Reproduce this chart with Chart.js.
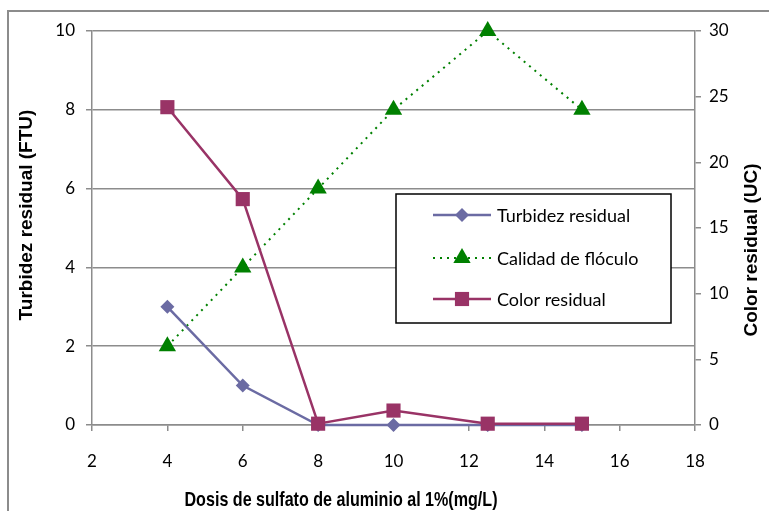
<!DOCTYPE html>
<html>
<head>
<meta charset="utf-8">
<script src="https://cdn.jsdelivr.net/npm/chart.js@4.4.1/dist/chart.umd.min.js"></script>
<style>
  body { margin: 0; background: #fff; }
  canvas { display: block; }
</style>
</head>
<body>
<canvas id="doseChart" width="769" height="511"></canvas>
<script>
// dosis de sulfato (mg/L) y resultados del ensayo de jarras
const dosis = [4, 6, 8, 10, 12.5, 15];
const turbidez = [3, 1, 0, 0, 0, 0];          // FTU, eje izquierdo
const calidad = [2, 4, 6, 8, 10, 8];          // eje izquierdo
const colorResidual = [24.2, 17.2, 0.1, 1.1, 0.1, 0.1];   // UC, eje derecho

const xRange = [2, 18, 2];
const leftRange = [0, 10, 2];
const rightRange = [0, 30, 5];

const xTitle = "Dosis de sulfato de aluminio al 1%(mg/L)";
const leftTitle = "Turbidez residual (FTU)";
const rightTitle = "Color residual (UC)";

const GRID = "#8c8c8c";
const tickFont = { family: "Lato, 'Open Sans', sans-serif", size: 17 };

function pts(ys){
    return dosis.map((x, i) => ({ x: x, y: ys[i] }));
}

// marco exterior, titulos de ejes y leyenda
const decor = {
    id: "decor",
    beforeDraw(chart){
        const ctx = chart.ctx;
        ctx.save();
        ctx.fillStyle = "#fff";
        ctx.fillRect(0, 0, chart.width, chart.height);
        ctx.strokeStyle = GRID;
        ctx.lineWidth = 2;
        ctx.strokeRect(8, 11, chart.width + 20, chart.height + 20);
        ctx.restore();
    },
    afterDraw(chart){
        const ctx = chart.ctx;
        ctx.save();
        ctx.fillStyle = "#000";
        ctx.textAlign = "center";
        ctx.textBaseline = "middle";
        ctx.font = "bold 19px 'Liberation Sans', Arial, sans-serif";

        ctx.save();
        ctx.translate(27, 215);
        ctx.rotate(-Math.PI / 2);
        ctx.fillText(leftTitle, 0, 0);
        ctx.restore();

        ctx.save();
        ctx.translate(752, 250);
        ctx.rotate(-Math.PI / 2);
        ctx.fillText(rightTitle, 0, 0);
        ctx.restore();

        // titulo horizontal en letra estrecha
        ctx.save();
        ctx.font = "bold 21px 'Liberation Sans', Arial, sans-serif";
        ctx.translate(341, 500);
        const w = ctx.measureText(xTitle).width;
        ctx.scale(313 / w, 1);
        ctx.fillText(xTitle, 0, 0);
        ctx.restore();

        // leyenda
        const box = { x: 396, y: 194, w: 275, h: 129 };
        ctx.fillStyle = "#fff";
        ctx.fillRect(box.x, box.y, box.w, box.h);
        ctx.strokeStyle = "#000";
        ctx.lineWidth = 1.5;
        ctx.strokeRect(box.x, box.y, box.w, box.h);

        const rows = [215, 258, 299];
        chart.data.datasets.forEach((ds, i) => {
            const y = rows[i];
            ctx.save();
            ctx.strokeStyle = ds.borderColor;
            ctx.lineWidth = ds.borderWidth;
            ctx.setLineDash(ds.borderDash || []);
            ctx.beginPath();
            ctx.moveTo(433, y);
            ctx.lineTo(491, y);
            ctx.stroke();
            ctx.setLineDash([]);
            ctx.fillStyle = ds.pointBackgroundColor;
            ctx.strokeStyle = ds.pointBorderColor;
            Chart.helpers.drawPoint(ctx, {
                pointStyle: ds.pointStyle,
                radius: ds.pointRadius,
                rotation: 0,
                borderWidth: 0
            }, 462, y);
            ctx.restore();

            ctx.fillStyle = "#000";
            ctx.textAlign = "left";
            ctx.font = "18px " + tickFont.family;
            ctx.fillText(ds.label, 497, y + 1);
        });
        ctx.restore();
    }
};

new Chart(document.getElementById("doseChart"), {
    type: "line",
    data: {
        datasets: [
            {
                label: "Turbidez residual",
                data: pts(turbidez),
                yAxisID: "y",
                borderColor: "#6b6ba3",
                borderWidth: 2.5,
                pointStyle: "rectRot",
                pointRadius: 7,
                pointBackgroundColor: "#6b6ba3",
                pointBorderColor: "#6b6ba3",
                pointBorderWidth: 0,
                order: 1
            },
            {
                label: "Calidad de flóculo",
                data: pts(calidad),
                yAxisID: "y",
                borderColor: "#008000",
                borderWidth: 2,
                borderDash: [2, 5],
                pointStyle: "triangle",
                pointRadius: 10,
                pointBackgroundColor: "#008000",
                pointBorderColor: "#008000",
                pointBorderWidth: 0,
                order: 2
            },
            {
                label: "Color residual",
                data: pts(colorResidual),
                yAxisID: "y2",
                borderColor: "#993366",
                borderWidth: 2.5,
                pointStyle: "rect",
                pointRadius: 10,
                pointBackgroundColor: "#993366",
                pointBorderColor: "#993366",
                pointBorderWidth: 0,
                order: 0
            }
        ]
    },
    options: {
        responsive: false,
        animation: false,
        clip: false,
        layout: { padding: { top: 31, left: 0, right: 0, bottom: 0 } },
        plugins: {
            legend: { display: false },
            tooltip: { enabled: false }
        },
        elements: { line: { tension: 0 } },
        scales: {
            x: {
                type: "linear",
                min: xRange[0], max: xRange[1],
                ticks: { stepSize: xRange[2], color: "#000", font: tickFont, padding: 20, maxRotation: 0 },
                grid: { drawOnChartArea: false, color: GRID, tickLength: 6, lineWidth: 1.5 },
                border: { color: GRID, width: 1.5 },
                afterFit(s){ s.height = 86; }
            },
            y: {
                position: "left",
                min: leftRange[0], max: leftRange[1],
                ticks: { stepSize: leftRange[2], color: "#000", font: tickFont, padding: 11 },
                grid: { color: GRID, tickLength: 6, lineWidth: 1.5 },
                border: { color: GRID, width: 1.5 },
                afterFit(s){ s.width = 92; }
            },
            y2: {
                position: "right",
                min: rightRange[0], max: rightRange[1],
                ticks: { stepSize: rightRange[2], color: "#000", font: tickFont, padding: 8 },
                grid: { drawOnChartArea: false, color: GRID, tickLength: 6, lineWidth: 1.5 },
                border: { color: GRID, width: 1.5 },
                afterFit(s){ s.width = 74; }
            }
        }
    },
    plugins: [decor]
});
</script>
</body>
</html>
